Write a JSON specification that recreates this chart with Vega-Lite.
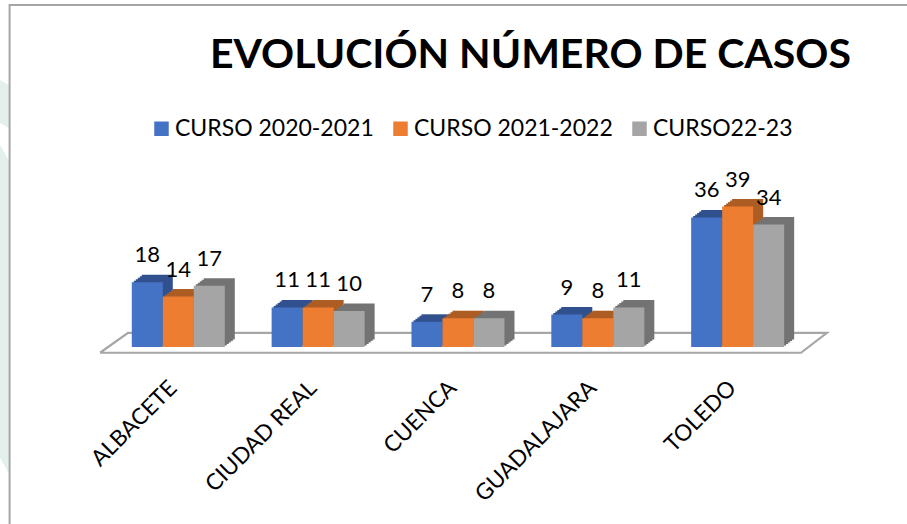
{"$schema":"https://vega.github.io/schema/vega-lite/v6.json","width":907,"height":524,"padding":0,"autosize":{"type":"none"},"background":"white","title":{"text":"EVOLUCIÓN NÚMERO DE CASOS","anchor":"start","frame":"group","orient":"top","offset":0,"dx":210,"dy":109,"font":"Lato","fontSize":41,"fontWeight":"bold","color":"#000000","baseline":"alphabetic"},"config":{"view":{"stroke":null},"font":"Lato"},"datasets":{"bars":[{"provincia":"ALBACETE","curso":"CURSO 2020-2021","casos":18},{"provincia":"ALBACETE","curso":"CURSO 2021-2022","casos":14},{"provincia":"ALBACETE","curso":"CURSO22-23","casos":17},{"provincia":"CIUDAD REAL","curso":"CURSO 2020-2021","casos":11},{"provincia":"CIUDAD REAL","curso":"CURSO 2021-2022","casos":11},{"provincia":"CIUDAD REAL","curso":"CURSO22-23","casos":10},{"provincia":"CUENCA","curso":"CURSO 2020-2021","casos":7},{"provincia":"CUENCA","curso":"CURSO 2021-2022","casos":8},{"provincia":"CUENCA","curso":"CURSO22-23","casos":8},{"provincia":"GUADALAJARA","curso":"CURSO 2020-2021","casos":9},{"provincia":"GUADALAJARA","curso":"CURSO 2021-2022","casos":8},{"provincia":"GUADALAJARA","curso":"CURSO22-23","casos":11},{"provincia":"TOLEDO","curso":"CURSO 2020-2021","casos":36},{"provincia":"TOLEDO","curso":"CURSO 2021-2022","casos":39},{"provincia":"TOLEDO","curso":"CURSO22-23","casos":34}],"floor":[{"u":-0.057,"v":-1.6,"o":1},{"u":0.143,"v":3.9,"o":2},{"u":5.135,"v":3.9,"o":3},{"u":4.95,"v":-1.6,"o":4},{"u":-0.057,"v":-1.6,"o":5}],"frame":[{"u":-0.703,"v":-50,"o":1},{"u":-0.703,"v":95,"o":2},{"u":5.72,"v":95,"o":3}],"pale":[{"u":-0.771,"v":74.2,"v2":62.2,"g":"a"},{"u":-0.71,"v":72.8,"v2":60.8,"g":"a"},{"u":-0.771,"v":56.1,"v2":-30.8,"g":"b"},{"u":-0.71,"v":51.9,"v2":-35,"g":"b"}]},"layer":[{"encoding":{"x":{"field":"u","type":"quantitative","axis":null,"scale":{"domain":[0,5],"range":[108,808],"nice":false,"zero":false}},"y":{"field":"v","type":"quantitative","axis":null,"scale":{"domain":[0,96.39],"range":[347,0],"nice":false}}},"layer":[{"data":{"name":"pale"},"mark":{"type":"area","color":"#e3f0ec","clip":false},"encoding":{"y2":{"field":"v2"},"detail":{"field":"g"}}},{"data":{"name":"frame"},"mark":{"type":"line","color":"#a6a6a6","strokeWidth":2},"encoding":{"order":{"field":"o"}}},{"data":{"name":"floor"},"mark":{"type":"line","color":"#a6a6a6","strokeWidth":2.2},"encoding":{"order":{"field":"o"}}}]},{"data":{"name":"bars"},"resolve":{"scale":{"xOffset":"independent"}},"encoding":{"x":{"field":"provincia","type":"nominal","sort":null,"scale":{"domain":["ALBACETE","CIUDAD REAL","CUENCA","GUADALAJARA","TOLEDO"],"range":[108.3,807.5],"paddingInner":0.336,"paddingOuter":0.168},"axis":{"title":null,"domain":false,"ticks":false,"labelAngle":-45,"labelAlign":"right","labelBaseline":"middle","labelFontSize":22.5,"labelFont":"Lato","labelColor":"#000000","labelPadding":0,"labelOffset":-5,"offset":-140,"labelOverlap":false,"labelLimit":300}},"y":{"field":"casos","type":"quantitative","axis":null,"scale":{"domain":[0,96.39],"range":[347,0],"nice":false}}},"layer":[{"transform":[{"filter":"datum.curso==='CURSO 2020-2021'"}],"mark":{"type":"bar","color":"#30518e","yOffset":-1.5},"encoding":{"xOffset":{"field":"curso","type":"nominal","scale":{"domain":["CURSO 2020-2021","CURSO 2021-2022","CURSO22-23"],"range":[2,95]}}}},{"transform":[{"filter":"datum.curso==='CURSO 2020-2021'"}],"mark":{"type":"bar","color":"#30518e","yOffset":-3},"encoding":{"xOffset":{"field":"curso","type":"nominal","scale":{"domain":["CURSO 2020-2021","CURSO 2021-2022","CURSO22-23"],"range":[4,97]}}}},{"transform":[{"filter":"datum.curso==='CURSO 2020-2021'"}],"mark":{"type":"bar","color":"#30518e","yOffset":-4.5},"encoding":{"xOffset":{"field":"curso","type":"nominal","scale":{"domain":["CURSO 2020-2021","CURSO 2021-2022","CURSO22-23"],"range":[6,99]}}}},{"transform":[{"filter":"datum.curso==='CURSO 2020-2021'"}],"mark":{"type":"bar","color":"#30518e","yOffset":-6},"encoding":{"xOffset":{"field":"curso","type":"nominal","scale":{"domain":["CURSO 2020-2021","CURSO 2021-2022","CURSO22-23"],"range":[8,101]}}}},{"transform":[{"filter":"datum.curso==='CURSO 2020-2021'"}],"mark":{"type":"bar","color":"#30518e","yOffset":-7.5},"encoding":{"xOffset":{"field":"curso","type":"nominal","scale":{"domain":["CURSO 2020-2021","CURSO 2021-2022","CURSO22-23"],"range":[10,103]}}}},{"transform":[{"filter":"datum.curso==='CURSO 2020-2021'"}],"mark":{"type":"bar"},"encoding":{"xOffset":{"field":"curso","type":"nominal","scale":{"domain":["CURSO 2020-2021","CURSO 2021-2022","CURSO22-23"],"range":[0,93]}},"color":{"field":"curso","type":"nominal","scale":{"domain":["CURSO 2020-2021","CURSO 2021-2022","CURSO22-23"],"range":["#4472c4","#ed7d31","#a5a5a5"]},"legend":{"title":null,"orient":"none","legendX":150,"legendY":117,"direction":"horizontal","columns":3,"columnPadding":15,"labelFont":"Lato","labelFontSize":23,"labelColor":"#000000","symbolType":"square","symbolSize":210,"symbolStrokeWidth":0,"labelOffset":2,"labelLimit":300}}}},{"transform":[{"filter":"datum.curso==='CURSO 2021-2022'"}],"mark":{"type":"bar","color":"#ad5c24","yOffset":-1.5},"encoding":{"xOffset":{"field":"curso","type":"nominal","scale":{"domain":["CURSO 2020-2021","CURSO 2021-2022","CURSO22-23"],"range":[2,95]}}}},{"transform":[{"filter":"datum.curso==='CURSO 2021-2022'"}],"mark":{"type":"bar","color":"#ad5c24","yOffset":-3},"encoding":{"xOffset":{"field":"curso","type":"nominal","scale":{"domain":["CURSO 2020-2021","CURSO 2021-2022","CURSO22-23"],"range":[4,97]}}}},{"transform":[{"filter":"datum.curso==='CURSO 2021-2022'"}],"mark":{"type":"bar","color":"#ad5c24","yOffset":-4.5},"encoding":{"xOffset":{"field":"curso","type":"nominal","scale":{"domain":["CURSO 2020-2021","CURSO 2021-2022","CURSO22-23"],"range":[6,99]}}}},{"transform":[{"filter":"datum.curso==='CURSO 2021-2022'"}],"mark":{"type":"bar","color":"#ad5c24","yOffset":-6},"encoding":{"xOffset":{"field":"curso","type":"nominal","scale":{"domain":["CURSO 2020-2021","CURSO 2021-2022","CURSO22-23"],"range":[8,101]}}}},{"transform":[{"filter":"datum.curso==='CURSO 2021-2022'"}],"mark":{"type":"bar","color":"#ad5c24","yOffset":-7.5},"encoding":{"xOffset":{"field":"curso","type":"nominal","scale":{"domain":["CURSO 2020-2021","CURSO 2021-2022","CURSO22-23"],"range":[10,103]}}}},{"transform":[{"filter":"datum.curso==='CURSO 2021-2022'"}],"mark":{"type":"bar"},"encoding":{"xOffset":{"field":"curso","type":"nominal","scale":{"domain":["CURSO 2020-2021","CURSO 2021-2022","CURSO22-23"],"range":[0,93]}},"color":{"field":"curso","type":"nominal"}}},{"transform":[{"filter":"datum.curso==='CURSO22-23'"}],"mark":{"type":"bar","color":"#737373","yOffset":-1.5},"encoding":{"xOffset":{"field":"curso","type":"nominal","scale":{"domain":["CURSO 2020-2021","CURSO 2021-2022","CURSO22-23"],"range":[2,95]}}}},{"transform":[{"filter":"datum.curso==='CURSO22-23'"}],"mark":{"type":"bar","color":"#737373","yOffset":-3},"encoding":{"xOffset":{"field":"curso","type":"nominal","scale":{"domain":["CURSO 2020-2021","CURSO 2021-2022","CURSO22-23"],"range":[4,97]}}}},{"transform":[{"filter":"datum.curso==='CURSO22-23'"}],"mark":{"type":"bar","color":"#737373","yOffset":-4.5},"encoding":{"xOffset":{"field":"curso","type":"nominal","scale":{"domain":["CURSO 2020-2021","CURSO 2021-2022","CURSO22-23"],"range":[6,99]}}}},{"transform":[{"filter":"datum.curso==='CURSO22-23'"}],"mark":{"type":"bar","color":"#737373","yOffset":-6},"encoding":{"xOffset":{"field":"curso","type":"nominal","scale":{"domain":["CURSO 2020-2021","CURSO 2021-2022","CURSO22-23"],"range":[8,101]}}}},{"transform":[{"filter":"datum.curso==='CURSO22-23'"}],"mark":{"type":"bar","color":"#737373","yOffset":-7.5},"encoding":{"xOffset":{"field":"curso","type":"nominal","scale":{"domain":["CURSO 2020-2021","CURSO 2021-2022","CURSO22-23"],"range":[10,103]}}}},{"transform":[{"filter":"datum.curso==='CURSO22-23'"}],"mark":{"type":"bar"},"encoding":{"xOffset":{"field":"curso","type":"nominal","scale":{"domain":["CURSO 2020-2021","CURSO 2021-2022","CURSO22-23"],"range":[0,93]}},"color":{"field":"curso","type":"nominal"}}},{"mark":{"type":"text","font":"Lato","fontSize":22,"color":"#000000","baseline":"middle","align":"center","dy":-27},"encoding":{"xOffset":{"field":"curso","type":"nominal","scale":{"domain":["CURSO 2020-2021","CURSO 2021-2022","CURSO22-23"],"range":[0,93]}},"text":{"field":"casos","type":"quantitative"}}}]}],"resolve":{"scale":{"x":"independent"}}}
